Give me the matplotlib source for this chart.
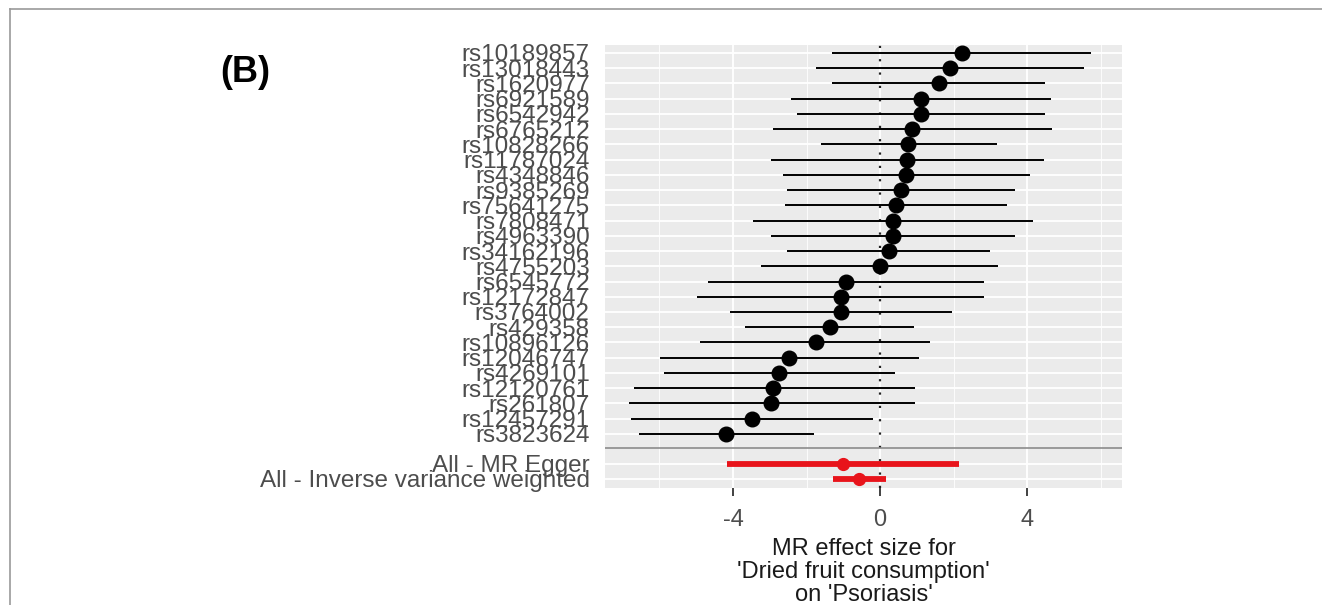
import numpy as np
import matplotlib.pyplot as plt
from matplotlib.lines import Line2D

# SNP estimates (top to bottom)
snps = ['rs10189857', 'rs13018443', 'rs1620977', 'rs6921589', 'rs6542942',
        'rs6765212', 'rs10828266', 'rs11787024', 'rs4348846', 'rs9385269',
        'rs75641275', 'rs7808471', 'rs4963390', 'rs34162196', 'rs4755203',
        'rs6545772', 'rs12172847', 'rs3764002', 'rs429358', 'rs10896126',
        'rs12046747', 'rs4269101', 'rs12120761', 'rs261807', 'rs12457291',
        'rs3823624']
snp_b = [2.24, 1.90, 1.61, 1.11, 1.11, 0.88, 0.77, 0.74, 0.71, 0.56,
         0.43, 0.34, 0.34, 0.25, 0.00, -0.93, -1.05, -1.05, -1.37, -1.75,
         -2.47, -2.74, -2.90, -2.97, -3.49, -4.19]
snp_lo = [-1.30, -1.74, -1.30, -2.43, -2.26, -2.90, -1.61, -2.97, -2.64, -2.52,
          -2.58, -3.46, -2.97, -2.52, -3.23, -4.69, -4.97, -4.08, -3.66, -4.90,
          -5.99, -5.88, -6.68, -6.84, -6.78, -6.56]
snp_hi = [5.74, 5.56, 4.49, 4.65, 4.49, 4.67, 3.17, 4.47, 4.08, 3.66,
          3.46, 4.15, 3.66, 2.99, 3.22, 2.83, 2.83, 1.95, 0.91, 1.36,
          1.06, 0.41, 0.95, 0.95, -0.20, -1.79]

# summary methods
methods = ['All - MR Egger', 'All - Inverse variance weighted']
meth_b = [-1.00, -0.56]
meth_lo = [-4.17, -1.27]
meth_hi = [2.15, 0.16]

xticks = [-4, 0, 4]
xlabel = "MR effect size for\n'Dried fruit consumption'\non 'Psoriasis'"

plt.rcParams['font.family'] = ['Liberation Sans', 'DejaVu Sans']

fig = plt.figure(figsize=(13.22, 6.05), dpi=100)
ax = fig.add_axes([605 / 1322, 1 - 488 / 605, (1122 - 605) / 1322, (488 - 45) / 605])

snp_y = np.arange(len(snps))
sep_y = snp_y[-1] + 0.92
meth_y = snp_y[-1] + 1.97 + np.arange(len(methods)) * 0.98

ax.set_facecolor('#EBEBEB')
ax.set_xlim(-7.48, 6.58)
ax.set_ylim(meth_y[-1] + 0.6, -0.52)

# grid
for v in [-6, -2, 2, 6]:
    ax.axvline(v, color='white', lw=0.6, zorder=0)
for v in xticks:
    ax.axvline(v, color='white', lw=1.3, zorder=0)
for y in list(snp_y) + list(meth_y):
    ax.axhline(y, color='white', lw=1.3, zorder=0)

ax.axvline(0, color='#222222', lw=1.6, linestyle=(0, (1.0, 5.0)), zorder=1)
ax.axhline(sep_y, color='#8C8C8C', lw=1.2, zorder=1)

# individual SNPs
ax.hlines(snp_y, snp_lo, snp_hi, color='black', lw=1.4, zorder=2)
ax.plot(snp_b, snp_y, 'o', color='black', ms=10.5, zorder=3)

# summary estimates
ax.hlines(meth_y, meth_lo, meth_hi, color='#E8141B', lw=4.2, zorder=2)
ax.plot(meth_b, meth_y, 'o', color='#E8141B', ms=8.5, zorder=3)

ax.set_yticks(list(snp_y) + list(meth_y))
ax.set_yticklabels(snps + methods)
ax.set_xticks(xticks)
ax.set_xticklabels([str(t) for t in xticks])
ax.tick_params(axis='y', length=0, pad=11, labelsize=17.5, labelcolor='#4D4D4D')
ax.tick_params(axis='x', length=6, width=1.3, color='#333333', pad=9,
               labelsize=17, labelcolor='#4D4D4D')
for s in ax.spines.values():
    s.set_visible(False)

ax.set_xlabel(xlabel, fontsize=17, color='#1A1A1A', linespacing=1.07, labelpad=5)

fig.text(220 / 1322, 1 - 72 / 605, '(B)', fontsize=26, fontweight='bold',
         ha='left', va='center')

# outer frame lines
fig.add_artist(Line2D([10 / 1322, 10 / 1322], [0, 1 - 9 / 605], color='#999999', lw=1.2))
fig.add_artist(Line2D([10 / 1322, 1], [1 - 9 / 605, 1 - 9 / 605], color='#999999', lw=1.2))

fig.savefig('out.png', dpi=100)
